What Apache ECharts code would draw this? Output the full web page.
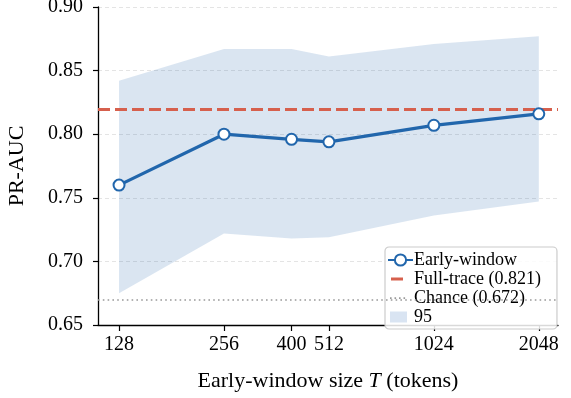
<!DOCTYPE html>
<html>
<head>
<meta charset="utf-8">
<script src="https://cdn.jsdelivr.net/npm/echarts@6/dist/echarts.min.js"></script>
<style>
  html, body { margin: 0; padding: 0; background: #fff; }
  #chart { width: 571px; height: 398px; }
</style>
</head>
<body>
<div id="chart"></div>
<script>
// Early-window sizes (tokens) and PR-AUC with its 95% band
const windowSizes = [128, 256, 400, 512, 1024, 2048];
const prAuc = [0.760, 0.800, 0.796, 0.794, 0.807, 0.816];
const ciLow = [0.675, 0.722, 0.718, 0.719, 0.736, 0.747];
const ciHigh = [0.842, 0.867, 0.867, 0.861, 0.871, 0.877];
const fullTrace = 0.821;
const chance = 0.672;
const xTicks = [128, 256, 400, 512, 1024, 2048];

const FONT = '"Liberation Serif", "Times New Roman", serif';
const BLUE = '#2166ac';
const RED = '#d6604d';
const GRAY = '#999999';
const BAND = 'rgba(33,102,172,0.17)';

const chart = echarts.init(document.getElementById('chart'), null, { renderer: 'canvas' });

const bandLabel = '95';
const fullLabel = 'Full-trace (' + fullTrace.toFixed(3) + ')';
const chanceLabel = 'Chance (' + chance.toFixed(3) + ')';

chart.setOption({
  animation: false,
  backgroundColor: '#ffffff',
  textStyle: { fontFamily: FONT, color: '#000' },
  grid: { left: 98, right: 13, top: 7, bottom: 73, containLabel: false, outerBoundsMode: 'none' },
  xAxis: {
    type: 'log',
    logBase: 2,
    min: 111.4,
    max: 2325,
    name: 'Early-window size {i|T} (tokens)',
    nameLocation: 'middle',
    nameGap: 45,
    nameTextStyle: {
      fontFamily: FONT, fontSize: 22, color: '#000',
      rich: { i: { fontFamily: FONT, fontSize: 22, fontStyle: 'italic', color: '#000' } }
    },
    axisLine: { show: true, onZero: false, lineStyle: { color: '#000', width: 1.3 } },
    axisTick: { show: true, length: 6, customValues: xTicks, lineStyle: { color: '#000', width: 1.2 } },
    axisLabel: {
      customValues: xTicks,
      fontFamily: FONT, fontSize: 20, color: '#000', margin: 10,
      formatter: v => String(Math.round(v))
    },
    splitLine: { show: false },
    minorTick: { show: false }
  },
  yAxis: {
    type: 'value',
    min: 0.65,
    max: 0.90,
    interval: 0.05,
    name: 'PR-AUC',
    nameLocation: 'middle',
    nameGap: 70,
    nameRotate: 90,
    nameTextStyle: { fontFamily: FONT, fontSize: 22, color: '#000' },
    axisLine: { show: true, lineStyle: { color: '#000', width: 1.3 } },
    axisTick: { show: true, length: 5, lineStyle: { color: '#000', width: 1.2 } },
    axisLabel: {
      fontFamily: FONT, fontSize: 20, color: '#000', margin: 15,
      formatter: v => v.toFixed(2)
    },
    splitLine: { show: true, lineStyle: { color: '#dddddd', width: 0.8, type: [4, 3] } }
  },
  legend: {
    orient: 'vertical',
    left: 385,
    top: 247,
    padding: [4, 16, 3, 2],
    itemGap: 1,
    itemWidth: 25,
    itemHeight: 14,
    backgroundColor: 'rgba(255,255,255,0.85)',
    borderColor: '#cccccc',
    borderWidth: 1.2,
    borderRadius: 4,
    textStyle: { fontFamily: FONT, fontSize: 18, color: '#000', lineHeight: 17, padding: [0, 0, 0, -4] },
    data: [
      { name: 'Early-window' },
      { name: fullLabel, icon: 'path://M0,0M25,14M3,5.5H15V8.5H3Z', itemStyle: { color: RED, borderWidth: 0 } },
      { name: chanceLabel, icon: 'path://M0,0M25,14M2,6.3h1.6v1.6h-1.6zM6.5,6.3h1.6v1.6h-1.6zM11,6.3h1.6v1.6h-1.6zM15.5,6.3h1.6v1.6h-1.6z', itemStyle: { color: GRAY, borderWidth: 0 } },
      { name: bandLabel, icon: 'path://M0,0M25,14M2,1.5H19V12.5H2Z', itemStyle: { color: '#d9e4f2', borderWidth: 0 } }
    ]
  },
  series: [
    {
      // shaded 95% band between ciLow and ciHigh
      name: bandLabel,
      type: 'custom',
      z: 1,
      silent: true,
      itemStyle: { color: '#d9e4f2' },
      data: [0],
      renderItem: function (params, api) {
        const pts = [];
        for (let i = 0; i < windowSizes.length; i++) pts.push(api.coord([windowSizes[i], ciHigh[i]]));
        for (let i = windowSizes.length - 1; i >= 0; i--) pts.push(api.coord([windowSizes[i], ciLow[i]]));
        return {
          type: 'polygon',
          shape: { points: pts },
          style: { fill: BAND, stroke: 'none' }
        };
      }
    },
    {
      name: chanceLabel,
      type: 'line',
      data: [],
      z: 2,
      itemStyle: { color: GRAY },
      markLine: {
        silent: true,
        symbol: 'none',
        label: { show: false },
        lineStyle: { color: GRAY, width: 1.6, type: [1.6, 3.2] },
        data: [{ yAxis: chance }]
      }
    },
    {
      name: fullLabel,
      type: 'line',
      data: [],
      z: 3,
      itemStyle: { color: RED },
      markLine: {
        silent: true,
        symbol: 'none',
        label: { show: false },
        lineStyle: { color: RED, width: 3, type: [12, 5] },
        data: [{ yAxis: fullTrace }]
      }
    },
    {
      name: 'Early-window',
      type: 'line',
      z: 5,
      data: windowSizes.map((t, i) => [t, prAuc[i]]),
      symbol: 'emptyCircle',
      symbolSize: 11,
      showSymbol: true,
      clip: false,
      lineStyle: { color: BLUE, width: 3.2 },
      itemStyle: { color: BLUE, borderWidth: 2.6 }
    }
  ]
});
</script>
</body>
</html>
